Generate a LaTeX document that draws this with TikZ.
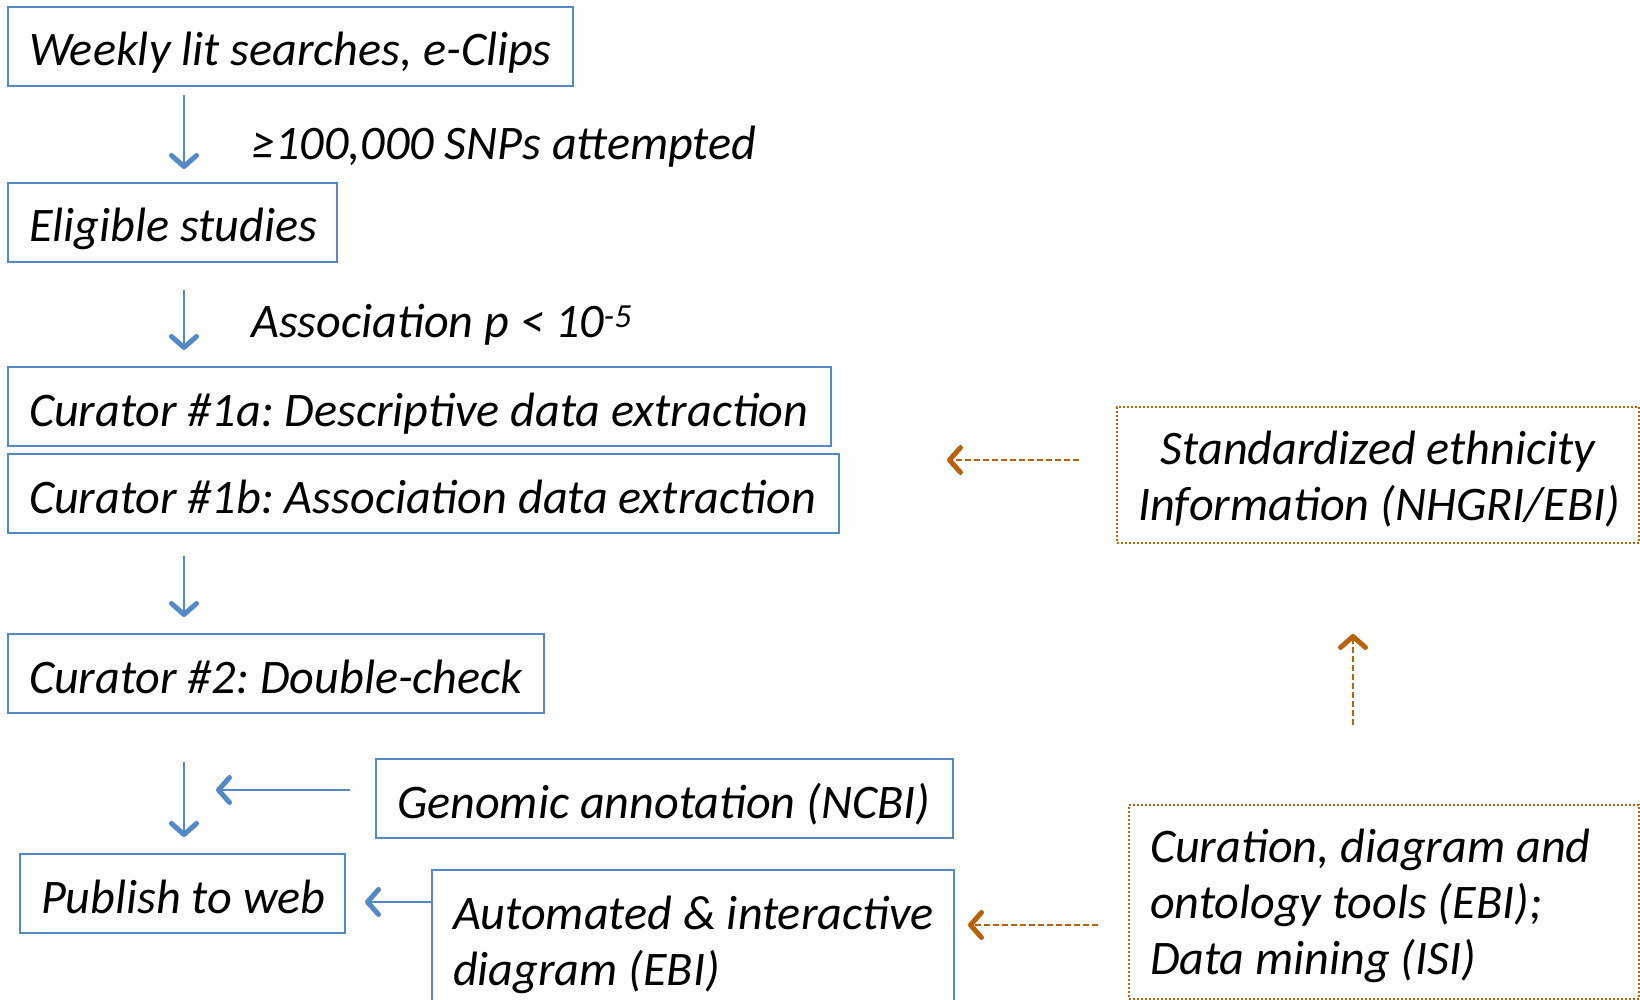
\documentclass[tikz,border=0pt]{standalone}
\usepackage{fontspec}
\setmainfont{Carlito}
\usetikzlibrary{arrows.meta}
\definecolor{bl}{RGB}{84,137,200}
\definecolor{og}{RGB}{184,98,14}
\newcommand\oneline[1]{\mbox{\spaceskip=0pt\xspaceskip=0pt #1}}
\begin{document}
\begin{tikzpicture}[x=1pt,y=-1pt,
  every node/.style={font=\fontsize{48.2}{56}\selectfont\itshape\frenchspacing, text=black},
  bbox/.style={draw=bl, line width=2pt, anchor=north west, inner xsep=21pt, inner ysep=17pt, align=left, text height=42pt, text depth=3pt, minimum height=77pt},
  bboxm/.style={draw=bl, line width=2pt, anchor=north west, inner xsep=21pt, inner ysep=17pt, align=left},
  obox/.style={draw=og, line width=2pt, dash pattern=on 2pt off 2pt, anchor=north west, inner xsep=21pt, inner ysep=6pt},
  tipb/.tip={Straight Barb[length=11pt,width=25pt,line width=5pt,round]},
  barrow/.style={draw=bl, line width=2pt, -tipb},
  oarrow/.style={draw=og, line width=2pt, dash pattern=on 6pt off 3pt, -tipb},
  lbl/.style={anchor=base west, inner sep=0pt}]
\useasboundingbox (0,0) rectangle (1640,1000);
\clip (0,0) rectangle (1640,1000);

\node[bbox, text width=523pt] (b1) at (7,6) {\oneline{Weekly lit searches, e-Clips}};
\node[bbox, text width=287pt] (b2) at (7,182) {\oneline{Eligible studies}};
\node[bbox, text width=781pt] (b3) at (7,366) {\oneline{Curator \#1a: Descriptive data extraction}};
\node[bbox, text width=789pt] (b4) at (7,453) {\oneline{Curator \#1b: Association data extraction}};
\node[bbox, text width=494pt] (b5) at (7,633) {\oneline{Curator \#2: Double-check}};
\node[bbox, text width=535pt] (b6) at (375,758) {\oneline{Genomic annotation (NCBI)}};
\node[bbox, text width=283pt] (b7) at (19,853) {\oneline{Publish to web}};
\node[bboxm, text width=480pt, minimum height=150pt] (b8) at (431,869) {\oneline{Automated \& interactive}\\\oneline{diagram (EBI)}};
\node[obox, text width=480pt, minimum height=136pt, align=center] (b9) at (1116,406) {\oneline{\rule{0pt}{41pt}Standardized ethnicity}\\\oneline{Information (NHGRI/EBI)}};
\node[obox, text width=468pt, minimum height=194pt, align=left] (b10) at (1128,804) {\oneline{\rule{0pt}{41pt}Curation, diagram and}\\\oneline{ontology tools (EBI);}\\\oneline{Data mining (ISI)}};

\node[lbl] (l1) at (251,160) {≥100,000 SNPs attempted};
\node[lbl] (l2) at (251,337) {Association p < 10\textsuperscript{-5}};

\coordinate (ax) at (184,0);
\draw[barrow, shorten <=8pt, shorten >=13pt] (b1.south -| ax) -- (b2.north -| ax);
\draw[barrow, shorten <=27pt, shorten >=16pt] (b2.south -| ax) -- (b3.north -| ax);
\draw[barrow, shorten <=22pt, shorten >=16pt] (b4.south -| ax) -- (b5.north -| ax);
\draw[barrow, shorten <=48pt, shorten >=16pt] (b5.south -| ax) -- (b7.north -| ax);

\coordinate (g) at (216,790);
\draw[barrow, shorten <=25pt] (b6.west |- g) -- (g);
\coordinate (a) at (0,902);
\draw[barrow, shorten >=19pt] (b8.west |- a) -- (b7.east |- a);

\coordinate (o1) at (947,460);
\draw[oarrow, shorten <=37pt] (b9.west |- o1) -- (o1);
\coordinate (o2) at (1353,0);
\draw[oarrow, shorten <=79pt, shorten >=90pt] (b10.north -| o2) -- (b9.south -| o2);
\coordinate (o3) at (0,925);
\draw[oarrow, shorten <=30pt, shorten >=13pt] (b10.west |- o3) -- (b8.east |- o3);
\end{tikzpicture}
\end{document}
